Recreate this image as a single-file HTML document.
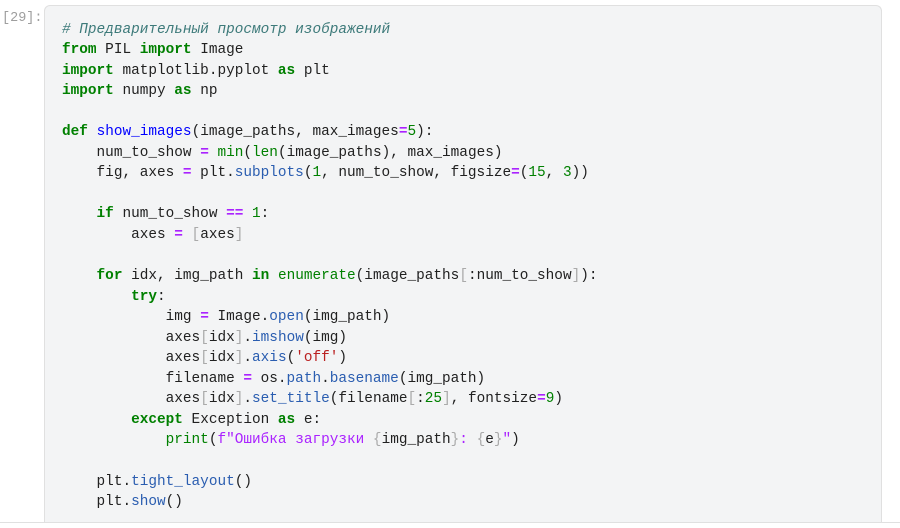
<!DOCTYPE html>
<html><head><meta charset="utf-8"><style>
body{margin:0;width:900px;height:528px;background:#fff;position:relative;overflow:hidden;font-family:"Liberation Mono","DejaVu Sans Mono",monospace}
.p{position:absolute;left:2px;top:11px;color:#9e9e9e;font-size:13.5px}
.box{position:absolute;left:44px;top:5px;width:836px;height:517px;background:#f3f4f5;border:1px solid #e0e0e0;border-bottom:none;border-radius:6px 6px 0 0}
.bl{position:absolute;left:0;top:522px;width:900px;height:1px;background:#e0e0e0}
pre{position:absolute;left:62px;top:19.5px;margin:0;font-family:"Liberation Mono","DejaVu Sans Mono",monospace;font-size:14.4px;line-height:20.55px;color:#212121}
.k{color:#008000;font-weight:bold}.c{color:#3d7a7a;font-style:italic}.f{color:#0000ff}.b{color:#008000}
.m{color:#2a5db0}.o{color:#aa22ff;font-weight:bold}.n{color:#008000}.s{color:#ba2121}.g{color:#aaa}.fs{color:#aa22ff}
</style></head><body>
<div class="p">[29]:</div>
<div class="box"></div>
<div class="bl"></div>
<pre><span class="c"># Предварительный просмотр изображений</span>
<span class="k">from</span> PIL <span class="k">import</span> Image
<span class="k">import</span> matplotlib.pyplot <span class="k">as</span> plt
<span class="k">import</span> numpy <span class="k">as</span> np

<span class="k">def</span> <span class="f">show_images</span>(image_paths, max_images<span class="o">=</span><span class="n">5</span>):
    num_to_show <span class="o">=</span> <span class="b">min</span>(<span class="b">len</span>(image_paths), max_images)
    fig, axes <span class="o">=</span> plt.<span class="m">subplots</span>(<span class="n">1</span>, num_to_show, figsize<span class="o">=</span>(<span class="n">15</span>, <span class="n">3</span>))

    <span class="k">if</span> num_to_show <span class="o">==</span> <span class="n">1</span>:
        axes <span class="o">=</span> <span class="g">[</span>axes<span class="g">]</span>

    <span class="k">for</span> idx, img_path <span class="k">in</span> <span class="b">enumerate</span>(image_paths<span class="g">[</span>:num_to_show<span class="g">]</span>):
        <span class="k">try</span>:
            img <span class="o">=</span> Image.<span class="m">open</span>(img_path)
            axes<span class="g">[</span>idx<span class="g">]</span>.<span class="m">imshow</span>(img)
            axes<span class="g">[</span>idx<span class="g">]</span>.<span class="m">axis</span>(<span class="s">'off'</span>)
            filename <span class="o">=</span> os.<span class="m">path</span>.<span class="m">basename</span>(img_path)
            axes<span class="g">[</span>idx<span class="g">]</span>.<span class="m">set_title</span>(filename<span class="g">[</span>:<span class="n">25</span><span class="g">]</span>, fontsize<span class="o">=</span><span class="n">9</span>)
        <span class="k">except</span> Exception <span class="k">as</span> e:
            <span class="b">print</span>(<span class="fs">f"Ошибка загрузки </span><span class="g">{</span>img_path<span class="g">}</span><span class="fs">: </span><span class="g">{</span>e<span class="g">}</span><span class="fs">"</span>)

    plt.<span class="m">tight_layout</span>()
    plt.<span class="m">show</span>()</pre>
</body></html>
